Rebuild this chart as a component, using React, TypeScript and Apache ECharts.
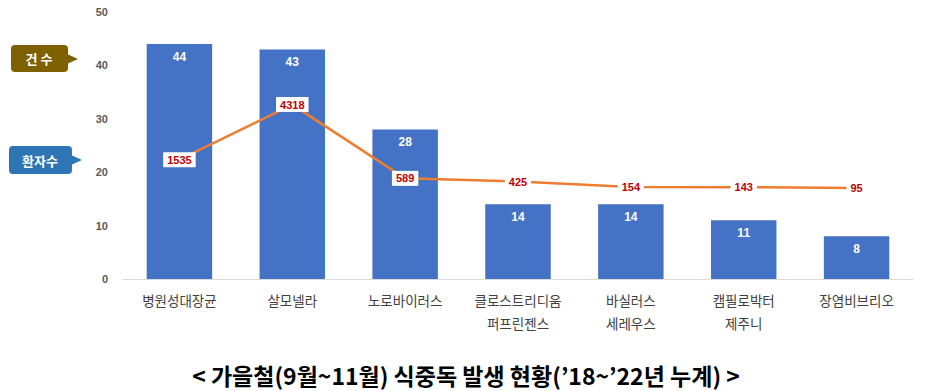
import React, { useEffect, useRef } from "react";
import * as echarts from "echarts";

const categories = ["병원성대장균", "살모넬라", "노로바이러스", "클로스트리디움\n퍼프린젠스", "바실러스\n세레우스", "캠필로박터\n제주니", "장염비브리오"];
const outbreaks = [44, 43, 28, 14, 14, 11, 8];
const patients = [1535, 4318, 589, 425, 154, 143, 95];
const title = "< 가을철(9월~11월) 식중독 발생 현황(’18~’22년 누계) >";

const FONT = "'Noto Sans CJK KR', 'Noto Sans', sans-serif";

export default function App() {
  const ref = useRef<HTMLDivElement>(null);
  useEffect(() => {
    const chart = echarts.init(ref.current!, undefined, { renderer: "svg" });
    chart.setOption({
      animation: false,
      textStyle: { fontFamily: FONT },
      grid: { left: 123, right: 27, top: 12, bottom: 112 },
      xAxis: {
        type: "category",
        data: categories,
        axisLine: { lineStyle: { color: "#d9d9d9", width: 1 } },
        axisTick: { show: false },
        axisLabel: { color: "#404040", fontSize: 13.5, lineHeight: 23, margin: 9, interval: 0, fontFamily: FONT },
      },
      yAxis: [
        {
          type: "value",
          min: 0,
          max: 50,
          interval: 10,
          splitLine: { show: false },
          axisLine: { show: false },
          axisLabel: { color: "#595959", fontSize: 11, fontWeight: "bold", margin: 15, fontFamily: "'Liberation Sans', Arial, sans-serif" },
        },
        { type: "value", min: -4500, max: 9000, show: false, splitLine: { show: false } },
      ],
      series: [
        {
          type: "bar",
          data: outbreaks,
          barWidth: "58%",
          itemStyle: { color: "#4472C4" },
          label: {
            show: true,
            position: "insideTop",
            distance: 7,
            color: "#ffffff",
            fontWeight: "bold",
            fontSize: 12,
            fontFamily: "'Liberation Sans', Arial, sans-serif",
          },
        },
        {
          type: "line",
          yAxisIndex: 1,
          data: patients,
          symbol: "circle",
          symbolSize: 1,
          showSymbol: true,
          lineStyle: { color: "#ED7D31", width: 2.5 },
          itemStyle: { color: "#ED7D31" },
          label: {
            show: true,
            position: "inside",
            color: "#C00000",
            fontWeight: "bold",
            fontSize: 11,
            fontFamily: "'Liberation Sans', Arial, sans-serif",
            backgroundColor: "#ffffff",
            padding: [2, 4],
          },
          z: 5,
        },
      ],
      graphic: [
        {
          type: "group",
          children: [
            { type: "rect", shape: { x: 11, y: 45, width: 57, height: 27, r: 4 }, style: { fill: "#7F6000" } },
            { type: "polygon", shape: { points: [[67, 54], [78, 59], [67, 64]] }, style: { fill: "#7F6000" } },
            { type: "text", x: 39, y: 58, style: { text: "건 수", fill: "#ffffff", font: `bold 13px ${FONT}`, align: "center", verticalAlign: "middle" } },
          ],
        },
        {
          type: "group",
          children: [
            { type: "rect", shape: { x: 9, y: 146, width: 63, height: 28, r: 4 }, style: { fill: "#2E75B6" } },
            { type: "polygon", shape: { points: [[71, 155], [82, 160], [71, 165]] }, style: { fill: "#2E75B6" } },
            { type: "text", x: 40, y: 160, style: { text: "환자수", fill: "#ffffff", font: `bold 13px ${FONT}`, align: "center", verticalAlign: "middle" } },
          ],
        },
        {
          type: "text",
          x: 466,
          y: 375,
          style: { text: title, fill: "#000000", font: `bold 23px ${FONT}`, align: "center", verticalAlign: "middle" },
        },
      ],
    });
    return () => chart.dispose();
  }, []);
  return <div ref={ref} style={{ width: 940, height: 391, position: "absolute", left: 0, top: 0 }} />;
}
